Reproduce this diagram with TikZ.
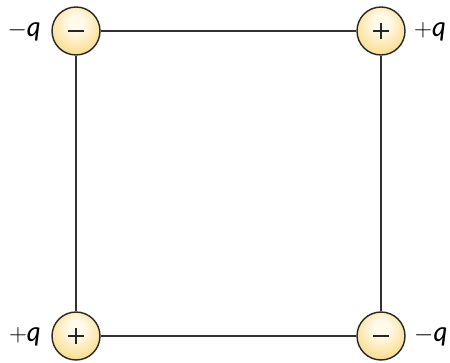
\documentclass[tikz,border=0pt]{standalone}
\usepackage{fontspec}
\setmainfont{Lato}
\definecolor{balledge}{RGB}{240,186,70}
\definecolor{ballmid}{RGB}{250,220,140}
\definecolor{ballcore}{RGB}{255,250,235}
\definecolor{wire}{RGB}{50,50,50}
\pgfdeclareradialshading{chargeball}{\pgfpoint{0bp}{9bp}}{%
  color(0bp)=(ballcore); color(8bp)=(ballcore); color(30bp)=(ballmid); color(52bp)=(balledge); color(70bp)=(balledge)}
\tikzset{
  charge/.style={circle, draw=black!85, line width=1.4pt, minimum size=48pt, inner sep=0pt, shading=chargeball},
  lbl/.style={font=\fontsize{27}{27}\selectfont, inner sep=0pt},
  wireline/.style={draw=wire, line width=1.4pt},
  signstroke/.style={draw=black!85, line width=1.6pt}
}
\begin{document}
\begin{tikzpicture}[x=1pt,y=-1pt]
\useasboundingbox (0,0) rectangle (450,363);
\node[charge] (tl) at (76,31) {};
\node[charge] (tr) at (381,31) {};
\node[charge] (bl) at (76,336) {};
\node[charge] (br) at (381,336) {};
\path[wireline] (tl) -- (tr);
\path[wireline] (tr) -- (br);
\path[wireline] (br) -- (bl);
\path[wireline] (bl) -- (tl);
% signs
\path[signstroke] ([xshift=-8pt]tl.center) -- ([xshift=8pt]tl.center);
\path[signstroke] ([xshift=-8pt]br.center) -- ([xshift=8pt]br.center);
\path[signstroke] ([xshift=-8pt]tr.center) -- ([xshift=8pt]tr.center)
                  ([yshift=-8pt]tr.center) -- ([yshift=8pt]tr.center);
\path[signstroke] ([xshift=-8pt]bl.center) -- ([xshift=8pt]bl.center)
                  ([yshift=-8pt]bl.center) -- ([yshift=8pt]bl.center);
\node[lbl, anchor=east] (ltl) at (41,32) {$-$\textit{q}};
\node[lbl, anchor=west] (ltr) at (414,32) {$+$\textit{q}};
\node[lbl, anchor=east] (lbl) at (41,337) {$+$\textit{q}};
\node[lbl, anchor=west] (lbr) at (414,337) {$-$\textit{q}};
\end{tikzpicture}
\end{document}
